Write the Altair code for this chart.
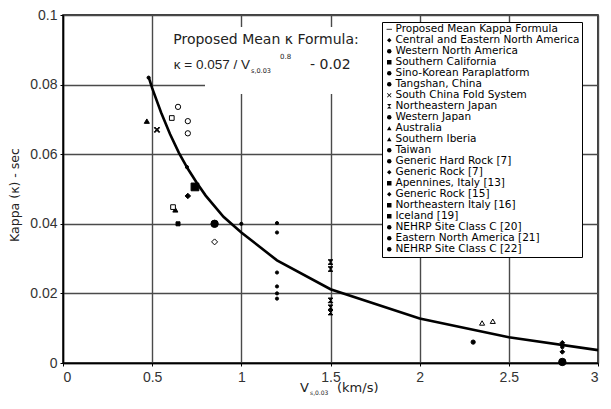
import altair as alt
import pandas as pd

# ---------------- data ----------------
series_names = [
    "Proposed Mean Kappa Formula",
    "Central and Eastern North America",
    "Western North America",
    "Southern California",
    "Sino-Korean Paraplatform",
    "Tangshan, China",
    "South China Fold System",
    "Northeastern Japan",
    "Western Japan",
    "Australia",
    "Southern Iberia",
    "Taiwan",
    "Generic Hard Rock [7]",
    "Generic Rock [7]",
    "Apennines, Italy [13]",
    "Generic Rock [15]",
    "Northeastern Italy [16]",
    "Iceland [19]",
    "NEHRP Site Class C [20]",
    "Eastern North America [21]",
    "NEHRP Site Class C [22]",
]

# curve
curve_v = [0.48, 0.5, 0.55, 0.6, 0.65, 0.7, 0.75, 0.8, 0.9, 1.0, 1.2, 1.5, 2.0, 2.5, 3.0]
curve_k = [0.0822, 0.079, 0.072, 0.0658, 0.0604, 0.0558, 0.0518, 0.0481, 0.042, 0.0375,
           0.0295, 0.0212, 0.0128, 0.0074, 0.0037]

pt_series = [
    "Central and Eastern North America", "Central and Eastern North America",
    "Western North America", "Western North America", "Western North America",
    "Southern California",
    "Sino-Korean Paraplatform", "Sino-Korean Paraplatform",
    "Tangshan, China",
    "South China Fold System",
    "Northeastern Japan", "Northeastern Japan", "Northeastern Japan",
    "Northeastern Japan", "Northeastern Japan",
    "Western Japan",
    "Australia", "Australia",
    "Southern Iberia", "Southern Iberia",
    "Taiwan", "Taiwan", "Taiwan",
    "Generic Hard Rock [7]",
    "Generic Rock [7]",
    "Apennines, Italy [13]",
    "Generic Rock [15]",
    "Northeastern Italy [16]",
    "Iceland [19]",
    "NEHRP Site Class C [20]", "NEHRP Site Class C [20]", "NEHRP Site Class C [20]",
    "Eastern North America [21]",
    "NEHRP Site Class C [22]",
]
pt_v = [
    2.8, 2.8,
    0.645, 0.70, 0.70,
    0.645,
    1.2, 1.2,
    1.2,
    0.527,
    1.5, 1.5, 1.5, 1.5, 1.5,
    2.30,
    0.47, 0.63,
    2.35, 2.41,
    1.2, 1.2, 1.2,
    2.8,
    0.70,
    0.61,
    0.85,
    0.617,
    0.74,
    0.48, 0.695, 1.0,
    2.8,
    0.85,
]
pt_k = [
    0.0058, 0.0032,
    0.0736, 0.0695, 0.066,
    0.040,
    0.0402, 0.0375,
    0.026,
    0.067,
    0.029, 0.027, 0.018, 0.016, 0.0145,
    0.006,
    0.0695, 0.044,
    0.0115, 0.012,
    0.022, 0.020, 0.0185,
    0.0003,
    0.048,
    0.0704,
    0.0348,
    0.0448,
    0.0506,
    0.082, 0.0563, 0.040,
    0.0046,
    0.040,
]

x_ticks = [0, 0.5, 1, 1.5, 2, 2.5, 3]
y_ticks = [0, 0.02, 0.04, 0.06, 0.08, 0.1]

# ---------------- styles per series ----------------
LINE_PATH = "M-1.2,-0.18L1.2,-0.18L1.2,0.18L-1.2,0.18Z"
X_PATH = ("M-1,-0.75L-0.75,-1L0,-0.25L0.75,-1L1,-0.75L0.25,0L1,0.75L0.75,1"
          "L0,0.25L-0.75,1L-1,0.75L-0.25,0Z")
HOURGLASS = "M-1,-1L1,-1L-1,1L1,1Z"
shapes = [LINE_PATH, "diamond", "circle", "square", "circle", "circle", X_PATH, HOURGLASS,
          "circle", "triangle-up", "triangle-up", "circle", "circle", "diamond", "square",
          "diamond", "square", "square", "circle", "circle", "circle"]
filled = [True, True, False, True, True, True, True, True,
          True, True, False, True, True, True, False,
          False, False, True, True, True, True]
sizes = [20, 22, 28, 16, 10, 10, 30, 22, 18, 26, 26, 10, 55, 30, 22,
         36, 22, 60, 10, 12, 55]

curve_df = pd.DataFrame({"v": curve_v, "k": curve_k})
pts_df = pd.DataFrame({"v": pt_v, "k": pt_k, "Series": pt_series})

W, H = 535, 348
xscale = alt.Scale(domain=[0, 3], nice=False)
yscale = alt.Scale(domain=[0, 0.1], nice=False)

xaxis = alt.Axis(values=x_ticks, format="~g", title=None, grid=True, labelPadding=4)
yaxis = alt.Axis(values=y_ticks, format="~g", title=None, grid=True, labelPadding=3)

base_line = alt.Chart(curve_df).mark_line(color="black", strokeWidth=2.6).encode(
    x=alt.X("v:Q", scale=xscale, axis=xaxis),
    y=alt.Y("k:Q", scale=yscale, axis=yaxis),
)

legend = alt.Legend(
    title=None, orient="none", legendX=319, legendY=7,
    labelFont="DejaVu Sans", labelFontSize=10.5, labelColor="black", labelLimit=400,
    labelOffset=1, symbolSize=20, symbolStrokeWidth=1, rowPadding=0,
    padding=2, strokeColor="black", fillColor="white",
    symbolFillColor="black", symbolStrokeColor="black",
)
shape_scale = alt.Scale(domain=series_names, range=shapes)

# group series with the same marker style into one layer each
groups = {}
for name, f, s in zip(series_names[1:], filled[1:], sizes[1:]):
    groups.setdefault((f, s), []).append(name)

point_layers = []
first = True
for (f, s), names in groups.items():
    lyr = alt.Chart(pts_df).transform_filter(
        alt.FieldOneOfPredicate(field="Series", oneOf=names)
    ).mark_point(
        strokeWidth=1, opacity=1, stroke="black",
        fill="black" if f else "white", fillOpacity=1, size=s,
    ).encode(
        x=alt.X("v:Q", scale=xscale),
        y=alt.Y("k:Q", scale=yscale),
        shape=alt.Shape("Series:N", scale=shape_scale, legend=legend if first else None),
    )
    first = False
    point_layers.append(lyr)

one = pd.DataFrame({"a": [0]})

# white box behind the formula annotation
box = alt.Chart(one).mark_rect(fill="white").encode(
    x=alt.value(142), x2=alt.value(319), y=alt.value(12), y2=alt.value(79)
)

def txt(s, x, y, size, align="left", angle=0, font="DejaVu Sans", color="#222"):
    kw = dict(text=s, align=align, baseline="middle", fontSize=size, font=font, color=color)
    if angle:
        kw["angle"] = angle
    return alt.Chart(one).mark_text(**kw).encode(x=alt.value(x), y=alt.value(y))

annot = [
    txt("Proposed Mean κ Formula:", 203, 25, 14, align="center"),
    txt("κ = 0.057 / V", 187, 50, 13.5, align="right", font="Liberation Sans"),
    txt("s,0.03", 188, 56, 6.5),
    txt("0.8", 217, 42, 7),
    txt("- 0.02", 247, 50, 14),
    # axis titles
    txt("V", 237, 373, 13),
    txt("s,0.03", 247, 378, 6),
    txt("(km/s)", 274, 373, 13),
    txt("Kappa (κ) - sec", -48, 180, 12.5, align="center", angle=270),
]

chart = alt.layer(box, base_line, *point_layers, *annot).properties(
    width=W, height=H,
    autosize=alt.AutoSizeParams(type="none"),
    padding={"left": 55, "top": 7, "right": 5, "bottom": 36},
).configure_view(
    stroke="black", strokeWidth=1.5
).configure_axis(
    gridColor="#4a4a4a", gridWidth=1.4, gridOpacity=1,
    domainColor="black", domainWidth=1.5,
    tickColor="black", tickSize=3,
    labelFont="Liberation Sans", labelFontSize=14, labelColor="#333",
)

chart.save("out.html", embed_options={"renderer": "svg", "actions": False})
